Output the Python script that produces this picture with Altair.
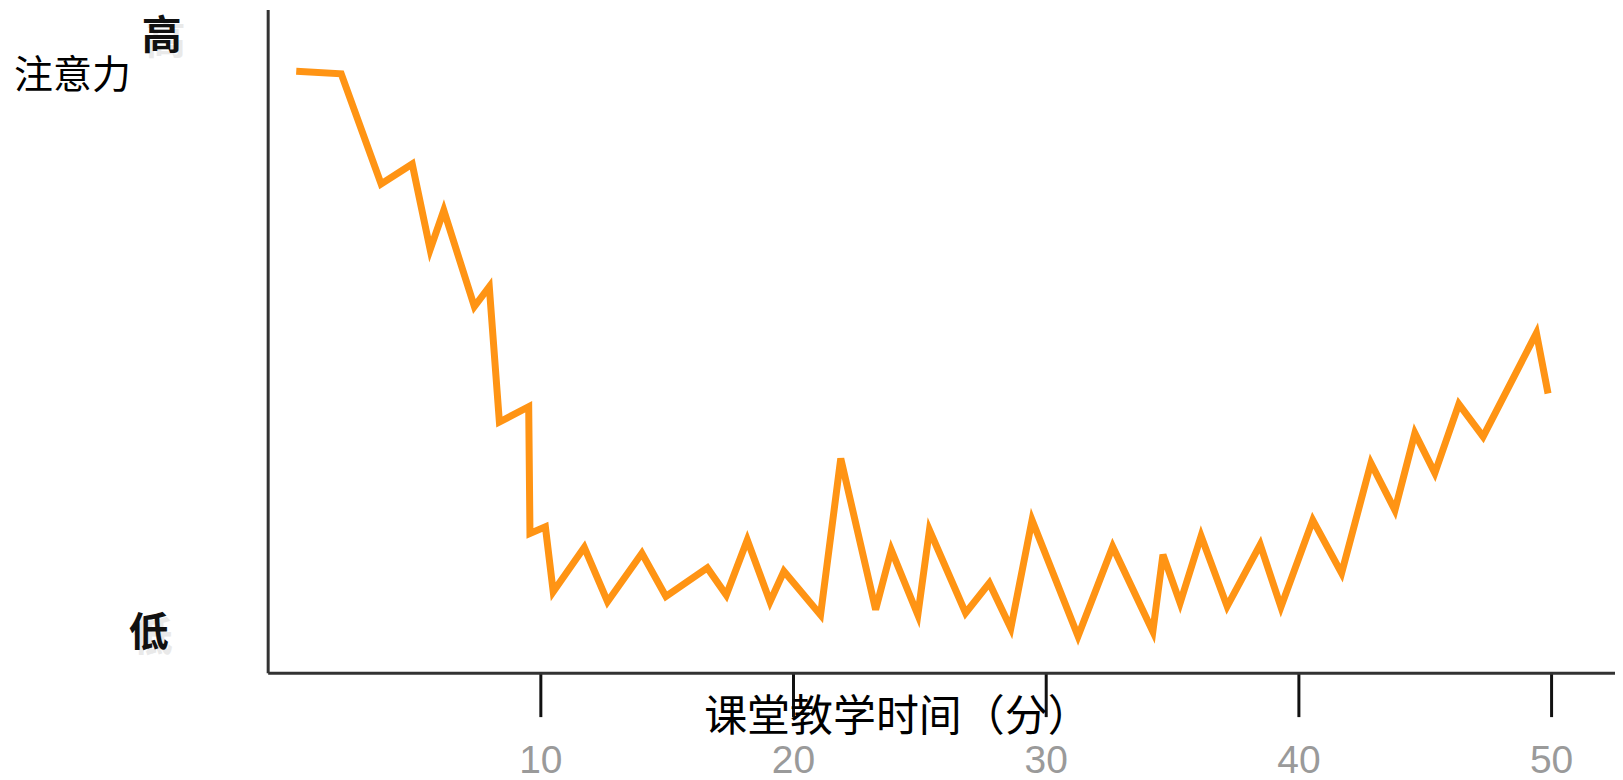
import altair as alt
import pandas as pd

# Time in class (minutes) and attention level (0 = low, 100 = high)
minutes = [0.34, 2.12, 3.70, 4.93, 5.64, 6.18, 7.39, 7.98, 8.38, 9.54,
           9.59, 10.20, 10.51, 11.74, 12.66, 14.02, 14.97, 16.61, 17.36, 18.19,
           19.09, 19.64, 21.09, 21.89, 23.27, 23.89, 24.94, 25.40, 26.83, 27.77,
           28.62, 29.46, 31.28, 32.65, 34.24, 34.64, 35.32, 36.15, 37.18, 38.49,
           39.31, 40.57, 41.71, 42.87, 43.82, 44.61, 45.40, 46.35, 47.31, 49.42,
           49.88]
attention = [90.7, 90.3, 73.7, 76.7, 63.8, 69.7, 55.2, 58.2, 37.8, 40.1,
             21.0, 22.0, 12.2, 18.9, 10.7, 18.0, 11.5, 15.8, 11.7, 20.0,
             10.7, 15.3, 8.7, 32.3, 9.5, 18.5, 8.7, 21.5, 9.0, 13.5,
             6.7, 23.0, 5.5, 19.0, 6.2, 17.8, 10.5, 20.6, 10.0, 19.3,
             9.9, 23.0, 15.0, 31.6, 24.5, 36.1, 30.1, 40.5, 35.6, 51.2,
             42.1]
tick_values = [10, 20, 30, 40, 50]
level_high = ["高"]
level_low = ["低"]
x_title = "课堂教学时间（分）"
y_title = "注意力"

df = pd.DataFrame({"t": minutes, "a": attention})

W, H = 1349, 664

line = alt.Chart(df).mark_line(
    color="#FF9414", strokeWidth=7, strokeJoin="miter", strokeCap="butt"
).encode(
    x=alt.X("t:Q",
            scale=alt.Scale(domain=[-0.79, 52.53], nice=False, zero=False),
            axis=alt.Axis(values=tick_values, tickSize=44, tickWidth=3, tickColor="#111",
                          domainColor="#333", domainWidth=3, grid=False,
                          labelFont="Liberation Sans", labelFontSize=39,
                          labelColor="#9a9a9a", labelPadding=25,
                          title=x_title, titleFont="Noto Sans CJK SC", titleFontSize=43,
                          titleFontWeight="normal", titleColor="#000",
                          titleX=630, titleY=45, titleAlign="center",
                          titleBaseline="middle")),
    y=alt.Y("a:Q",
            scale=alt.Scale(domain=[0, 100], nice=False, zero=False),
            axis=alt.Axis(ticks=False, labels=False, grid=False,
                          domainColor="#333", domainWidth=3,
                          title=y_title, titleFont="Noto Sans CJK SC", titleFontSize=39,
                          titleFontWeight="normal", titleColor="#000", titleAngle=0,
                          titleX=-196, titleY=66, titleAlign="center",
                          titleBaseline="middle"))
)


def level_text(labels, px, py, color, dx=0, dy=0, opacity=1.0):
    return alt.Chart(pd.DataFrame({"label": labels})).mark_text(
        font="Noto Sans CJK SC", fontSize=40, fontWeight="bold", color=color,
        align="center", baseline="middle", dx=dx, dy=dy, opacity=opacity
    ).encode(x=alt.value(px), y=alt.value(py), text="label:N")


chart = alt.layer(
    line,
    level_text(level_high, -106, 28, "#cfcfcf", dx=4, dy=5, opacity=0.45),
    level_text(level_low, -119, 625, "#cfcfcf", dx=4, dy=5, opacity=0.45),
    level_text(level_high, -106, 28, "#111"),
    level_text(level_low, -119, 625, "#111"),
).properties(
    width=W, height=H,
    autosize=alt.AutoSizeParams(type="none"),
    padding={"left": 260, "top": 1, "right": 0, "bottom": 120},
).configure(background="white").configure_view(stroke=None)

chart.save("out.html", embed_options={"renderer": "svg", "actions": False})
